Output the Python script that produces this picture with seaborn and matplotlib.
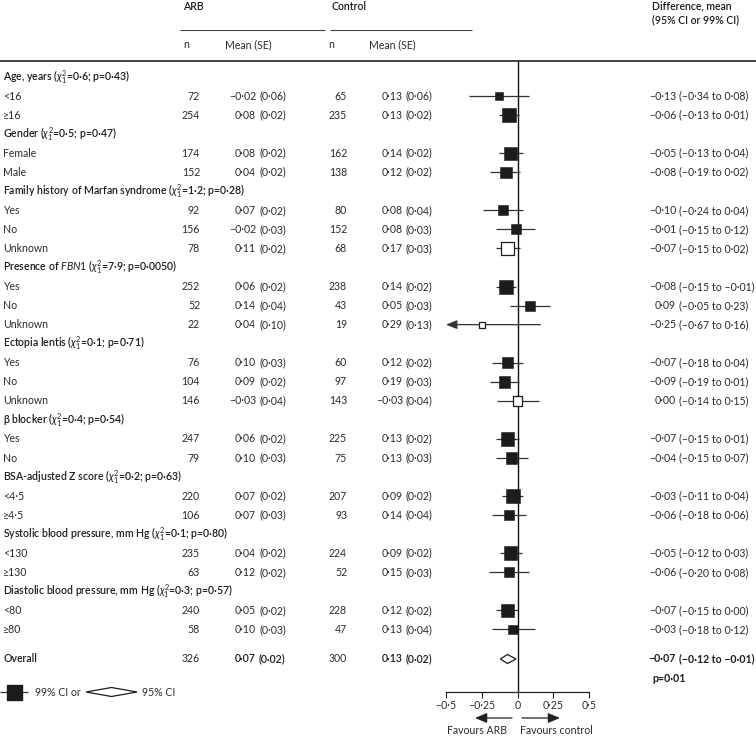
import numpy as np
import pandas as pd
import matplotlib.pyplot as plt
import seaborn as sns
from matplotlib.patches import Polygon

# ============================================================
# Data
# ============================================================

group_titles = [
    r"Age, years ($\chi^2_1$=0·6; p=0·43)",
    r"Gender ($\chi^2_1$=0·5; p=0·47)",
    r"Family history of Marfan syndrome ($\chi^2_1$=1·2; p=0·28)",
    r"Presence of $\mathit{FBN1}$ ($\chi^2_1$=7·9; p=0·0050)",
    r"Ectopia lentis ($\chi^2_1$=0·1; p=0·71)",
    r"β blocker ($\chi^2_1$=0·4; p=0·54)",
    r"BSA-adjusted Z score ($\chi^2_1$=0·2; p=0·63)",
    r"Systolic blood pressure, mm Hg ($\chi^2_1$=0·1; p=0·80)",
    r"Diastolic blood pressure, mm Hg ($\chi^2_1$=0·3; p=0·57)",
]
group_sizes = [2, 2, 3, 3, 3, 2, 2, 2, 2]

sub_labels = [
    "<16", "≥16",
    "Female", "Male",
    "Yes", "No", "Unknown",
    "Yes", "No", "Unknown",
    "Yes", "No", "Unknown",
    "Yes", "No",
    "<4·5", "≥4·5",
    "<130", "≥130",
    "<80", "≥80",
]

arb_n = [72, 254, 174, 152, 92, 156, 78, 252, 52, 22, 76, 104, 146,
         247, 79, 220, 106, 235, 63, 240, 58]
arb_mean = [-0.02, 0.08, 0.08, 0.04, 0.07, -0.02, 0.11, 0.06, 0.14, 0.04,
            0.10, 0.09, -0.03, 0.06, 0.10, 0.07, 0.07, 0.04, 0.12, 0.05, 0.10]
arb_se = [0.06, 0.02, 0.02, 0.02, 0.02, 0.03, 0.02, 0.02, 0.04, 0.10,
          0.03, 0.02, 0.04, 0.02, 0.03, 0.02, 0.03, 0.02, 0.02, 0.02, 0.03]

ctl_n = [65, 235, 162, 138, 80, 152, 68, 238, 43, 19, 60, 97, 143,
         225, 75, 207, 93, 224, 52, 228, 47]
ctl_mean = [0.13, 0.13, 0.14, 0.12, 0.08, 0.08, 0.17, 0.14, 0.05, 0.29,
            0.12, 0.19, -0.03, 0.13, 0.13, 0.09, 0.14, 0.09, 0.15, 0.12, 0.13]
ctl_se = [0.06, 0.02, 0.02, 0.02, 0.04, 0.03, 0.03, 0.02, 0.03, 0.13,
          0.02, 0.03, 0.04, 0.02, 0.03, 0.02, 0.04, 0.02, 0.03, 0.02, 0.04]

diff = [-0.13, -0.06, -0.05, -0.08, -0.10, -0.01, -0.07, -0.08, 0.09, -0.25,
        -0.07, -0.09, 0.00, -0.07, -0.04, -0.03, -0.06, -0.05, -0.06, -0.07, -0.03]
diff_lo = [-0.34, -0.13, -0.13, -0.19, -0.24, -0.15, -0.15, -0.15, -0.05, -0.67,
           -0.18, -0.19, -0.14, -0.15, -0.15, -0.11, -0.18, -0.12, -0.20, -0.15, -0.18]
diff_hi = [0.08, 0.01, 0.04, 0.02, 0.04, 0.12, 0.02, -0.01, 0.23, 0.16,
           0.04, 0.01, 0.15, 0.01, 0.07, 0.04, 0.06, 0.03, 0.08, 0.00, 0.12]

# "Unknown" subgroups are drawn as open squares
unknown_group = [False, False, False, False, False, False, True, False, False, True,
                 False, False, True, False, False, False, False, False, False, False, False]

overall_n = [326, 300]
overall_mean = [0.07, 0.13]
overall_se = [0.02, 0.02]
overall_diff = -0.07
overall_lo = -0.12
overall_hi = -0.01
overall_p = "p=0·01"

xticks = [-0.5, -0.25, 0, 0.25, 0.5]
xtick_labels = ["−0·5", "−0·25", "0", "0·25", "0·5"]


def fmt(v):
    s = f"{v:.2f}".replace(".", "·")
    return s.replace("-", "−")


# ============================================================
# Layout helpers (pixel space of a 756 x 736 figure)
# ============================================================

W, H = 756, 736
ROW0, ROWH = 77, 19.05


def row_of(py):
    return (py - ROW0) / ROWH


sns.set_theme(style="white")
plt.rcParams["font.family"] = ["Lato", "DejaVu Sans"]
plt.rcParams["mathtext.fontset"] = "custom"
plt.rcParams["mathtext.rm"] = "Lato"
plt.rcParams["mathtext.it"] = "Lato:italic"
plt.rcParams["mathtext.bf"] = "Lato:bold"

FS = 7.6
TXT = "#2a2a2a"
INK = "#1c1c1c"

fig = plt.figure(figsize=(W / 100, H / 100), dpi=100)

# background axes in pixel x / row y for all table text
bg = fig.add_axes([0, 0, 1, 1])
bg.set_xlim(0, W)
bg.set_ylim(row_of(H), row_of(0))
bg.axis("off")

# forest axes
x_l, x_r, y_axis = 446, 589, 692
ax = fig.add_axes([x_l / W, (H - y_axis) / H, (x_r - x_l) / W, y_axis / H])
ax.patch.set_alpha(0)
ax.set_xlim(-0.5, 0.5)
ax.set_ylim(row_of(y_axis), row_of(0))

# ============================================================
# Rows
# ============================================================

title_rows = []
sub_rows = []
r = 0
for k in group_sizes:
    title_rows.append(r)
    r += 1
    for _ in range(k):
        sub_rows.append(r)
        r += 1
overall_row = r + 0.55

# ============================================================
# Header
# ============================================================

bg.text(183, row_of(6), "ARB", fontsize=FS, fontweight="semibold", color=INK, va="center")
bg.text(331, row_of(6), "Control", fontsize=FS, fontweight="semibold", color=INK, va="center")
bg.text(652, row_of(6), "Difference, mean", fontsize=FS, fontweight="semibold", color=INK, va="center")
bg.text(652, row_of(20), "(95% CI or 99% CI)", fontsize=FS, fontweight="semibold", color=INK, va="center")
bg.hlines(row_of(30), 180, 325, color="#444444", lw=0.8)
bg.hlines(row_of(30), 330, 472, color="#444444", lw=0.8)
bg.text(183, row_of(45), "n", fontsize=FS, color=TXT, va="center")
bg.text(225, row_of(45), "Mean (SE)", fontsize=FS, color=TXT, va="center")
bg.text(328, row_of(45), "n", fontsize=FS, color=TXT, va="center")
bg.text(369, row_of(45), "Mean (SE)", fontsize=FS, color=TXT, va="center")
bg.hlines(row_of(61), 0, W, color="#222222", lw=1.2)

# ============================================================
# Table text
# ============================================================

for title, tr in zip(group_titles, title_rows):
    bg.text(3, tr, title, fontsize=FS, fontweight="semibold", color=INK, va="center")

for i, sr in enumerate(sub_rows):
    bg.text(3, sr, sub_labels[i], fontsize=FS, color=TXT, va="center")
    bg.text(200, sr, str(arb_n[i]), fontsize=FS, color=TXT, va="center", ha="right")
    bg.text(256, sr, fmt(arb_mean[i]), fontsize=FS, color=TXT, va="center", ha="right")
    bg.text(259, sr, f"({fmt(arb_se[i])})", fontsize=FS, color=TXT, va="center")
    bg.text(347, sr, str(ctl_n[i]), fontsize=FS, color=TXT, va="center", ha="right")
    bg.text(403, sr, fmt(ctl_mean[i]), fontsize=FS, color=TXT, va="center", ha="right")
    bg.text(406, sr, f"({fmt(ctl_se[i])})", fontsize=FS, color=TXT, va="center")
    bg.text(676, sr, fmt(diff[i]), fontsize=FS, color=TXT, va="center", ha="right")
    bg.text(679, sr, f"({fmt(diff_lo[i])} to {fmt(diff_hi[i])})", fontsize=FS,
            color=TXT, va="center")

bg.text(3, overall_row, "Overall", fontsize=FS, fontweight="semibold", color=INK, va="center")
bg.text(200, overall_row, str(overall_n[0]), fontsize=FS, color=TXT, va="center", ha="right")
bg.text(256, overall_row, fmt(overall_mean[0]), fontsize=FS, fontweight="semibold",
        color=INK, va="center", ha="right")
bg.text(259, overall_row, f"({fmt(overall_se[0])})", fontsize=FS, fontweight="semibold",
        color=INK, va="center")
bg.text(347, overall_row, str(overall_n[1]), fontsize=FS, color=TXT, va="center", ha="right")
bg.text(403, overall_row, fmt(overall_mean[1]), fontsize=FS, fontweight="semibold",
        color=INK, va="center", ha="right")
bg.text(406, overall_row, f"({fmt(overall_se[1])})", fontsize=FS, fontweight="semibold",
        color=INK, va="center")
bg.text(676, overall_row, fmt(overall_diff), fontsize=FS, fontweight="bold",
        color=INK, va="center", ha="right")
bg.text(679, overall_row, f"({fmt(overall_lo)} to {fmt(overall_hi)})", fontsize=FS,
        fontweight="bold", color=INK, va="center")
bg.text(652, row_of(678), overall_p, fontsize=FS, fontweight="bold", color=INK, va="center")

# ============================================================
# Forest plot
# ============================================================

df = pd.DataFrame({
    "row": sub_rows,
    "diff": diff,
    "lo": diff_lo,
    "hi": diff_hi,
    "open": unknown_group,
})
# box side (px) shrinks with the CI width, as a weight
df["side"] = 5.24 / np.sqrt(df["hi"] - df["lo"])
df["s"] = (df["side"] * 0.72) ** 2

ax.vlines(0, row_of(61), row_of(y_axis), color="#111111", lw=1.0, zorder=1)

inside = df[df["lo"] >= -0.5]
ax.hlines(inside["row"], inside["lo"], inside["hi"], color="#333333", lw=0.9, zorder=2)
for _, rr in df[df["lo"] < -0.5].iterrows():
    ax.annotate("", xy=(-0.5, rr["row"]), xytext=(rr["hi"], rr["row"]),
                arrowprops=dict(arrowstyle="-|>,head_length=0.55,head_width=0.22",
                                color="#333333", lw=0.9, shrinkA=0, shrinkB=0),
                annotation_clip=False, zorder=2)

filled = df[~df["open"]]
hollow = df[df["open"]]
sns.scatterplot(data=filled, x="diff", y="row", marker="s", s=filled["s"].values,
                color=INK, edgecolor=INK, linewidth=0.4, ax=ax, zorder=3,
                legend=False, clip_on=False)
sns.scatterplot(data=hollow, x="diff", y="row", marker="s", s=hollow["s"].values,
                facecolor="white", edgecolor=INK, linewidth=0.9, ax=ax, zorder=3,
                legend=False, clip_on=False)

dh = 4.5 / ROWH
ax.add_patch(Polygon([(overall_lo, overall_row), (overall_diff, overall_row - dh),
                      (overall_hi, overall_row), (overall_diff, overall_row + dh)],
                     closed=True, facecolor="white", edgecolor=INK, lw=0.9, zorder=3))

for side in ["top", "left", "right"]:
    ax.spines[side].set_visible(False)
ax.spines["bottom"].set_color("#222222")
ax.spines["bottom"].set_linewidth(0.9)
ax.set_xticks(xticks)
ax.set_xticklabels(xtick_labels)
ax.tick_params(axis="x", direction="out", length=4, width=0.8, color="#222222",
               labelsize=FS, labelcolor=TXT, pad=2, bottom=True)
ax.set_yticks([])
ax.set_xlabel("")
ax.set_ylabel("")
ax.grid(False)

# favours arrows
ya = row_of(718)
bg.annotate("", xy=(475, ya), xytext=(512, ya),
            arrowprops=dict(arrowstyle="-|>,head_length=0.6,head_width=0.25",
                            color="#222222", lw=0.9, shrinkA=0, shrinkB=0))
bg.annotate("", xy=(560, ya), xytext=(522, ya),
            arrowprops=dict(arrowstyle="-|>,head_length=0.6,head_width=0.25",
                            color="#222222", lw=0.9, shrinkA=0, shrinkB=0))
bg.text(477, row_of(731), "Favours ARB", fontsize=FS, color=TXT, va="center", ha="center")
bg.text(556, row_of(731), "Favours control", fontsize=FS, color=TXT, va="center", ha="center")

# ============================================================
# Legend
# ============================================================

yl = row_of(692)
bg.hlines(yl, 0, 28, color="#333333", lw=0.9)
bg.scatter([14], [yl], marker="s", s=(15 * 0.72) ** 2, color=INK, zorder=3)
bg.text(35, yl, "99% CI or", fontsize=FS, color=TXT, va="center")
lh = 4.5 / ROWH
bg.add_patch(Polygon([(86, yl), (111.5, yl - lh), (137, yl), (111.5, yl + lh)],
                     closed=True, facecolor="white", edgecolor=INK, lw=0.9))
bg.text(142, yl, "95% CI", fontsize=FS, color=TXT, va="center")

fig.savefig("out.png", dpi=100)
